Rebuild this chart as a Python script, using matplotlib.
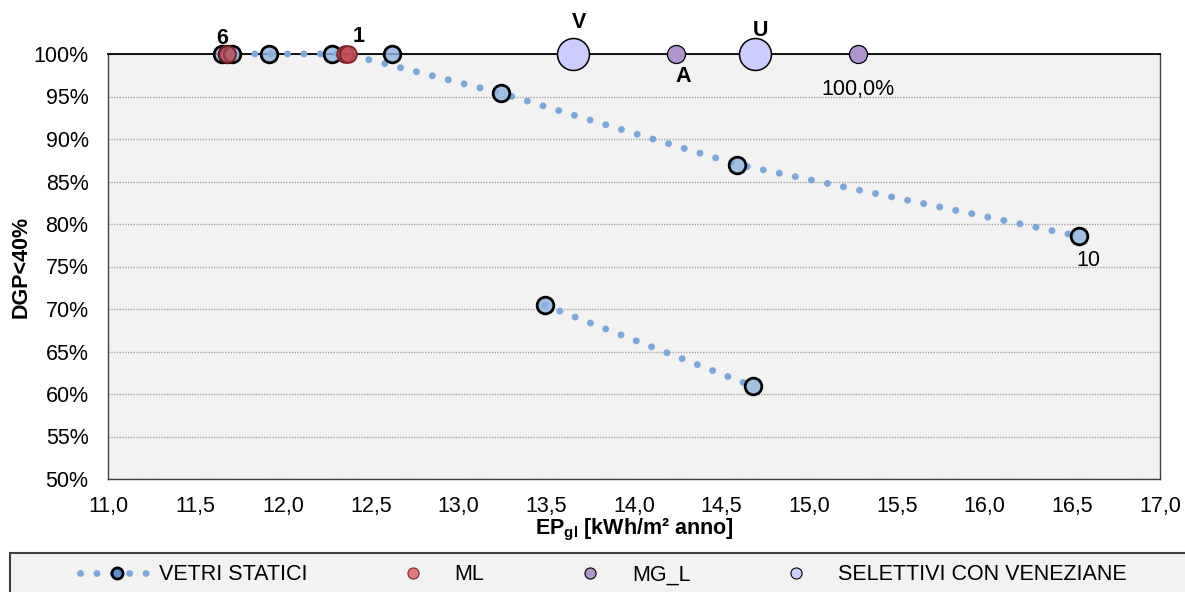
import matplotlib
matplotlib.use("Agg")
import matplotlib.pyplot as plt
from matplotlib.lines import Line2D
from matplotlib.patches import Rectangle

plt.rcParams['font.family'] = ['Liberation Sans', 'DejaVu Sans']
plt.rcParams['mathtext.fontset'] = 'custom'
plt.rcParams['mathtext.rm'] = 'Liberation Sans'
plt.rcParams['mathtext.bf'] = 'Liberation Sans:bold'

# ----------------------------
# Data (EP_gl kWh/m2 anno, DGP<40 %)
# ----------------------------
vetri_x = [11.65, 11.68, 11.71, 11.92, 12.28, 12.62, 13.24, 14.59, 16.54]
vetri_y = [100, 100, 100, 100, 100, 100, 95.4, 87.0, 78.55]

front_x = [11.65, 11.92, 12.28, 12.36, 13.24, 14.59, 16.54]
front_y = [100, 100, 100, 100, 95.4, 87.0, 78.55]

low_x = [13.49, 14.68]
low_y = [70.45, 60.9]

ml_x = [11.68, 12.35, 12.37]
ml_y = [100, 100, 100]

mgl_x = [14.24, 15.28]
mgl_y = [100, 100]

sel_x = [13.65, 14.69]
sel_y = [100, 100]

x_ticks = [11.0 + 0.5 * i for i in range(13)]
y_ticks = [50 + 5 * i for i in range(11)]

# ----------------------------
# Styles
# ----------------------------
LINE_C = '#7ba7dd'
BLUE_FC = (0.55, 0.70, 0.88, 0.8)
DOTS = (0, (0.01, 2.35))
FS = 15.5

fig = plt.figure(figsize=(11.85, 5.92), dpi=100)
ax = fig.add_axes([108 / 1185, 1 - 479 / 592, (1160 - 108) / 1185, (479 - 54) / 592])
ax.set_facecolor('#f2f2f2')

# dotted lines
for lx, ly in [(front_x, front_y), (low_x, low_y)]:
    ax.plot(lx, ly, color=LINE_C, lw=5.0, linestyle=DOTS,
            dash_capstyle='round', zorder=3, clip_on=False)

# markers
ax.plot(vetri_x + low_x, vetri_y + low_y, ls='none', marker='o', ms=12,
        mfc=BLUE_FC, mec='black', mew=2.0, zorder=4, clip_on=False)
ax.plot(ml_x, ml_y, ls='none', marker='o', ms=12,
        mfc=(0.75, 0.30, 0.32, 0.8), mec='#7a2226', mew=1.3, zorder=5, clip_on=False)
ax.plot(mgl_x, mgl_y, ls='none', marker='o', ms=13,
        mfc='#b094cc', mec='black', mew=0.9, zorder=5, clip_on=False)
ax.plot(sel_x, sel_y, ls='none', marker='o', ms=23,
        mfc='#ccccff', mec='black', mew=1.1, zorder=5, clip_on=False)

# data labels
def lab(text, x, y, dx, dy, bold=True):
    ax.annotate(text, (x, y), xytext=(dx * 0.72, dy * 0.72), textcoords='offset points',
                ha='center', va='center', fontsize=FS,
                fontweight='bold' if bold else 'normal', zorder=6, annotation_clip=False)

lab('6', vetri_x[0], vetri_y[0], 0, 16)
lab('1', ml_x[2], ml_y[2], 10, 18)
lab('V', sel_x[0], sel_y[0], 6, 31)
lab('U', sel_x[1], sel_y[1], 6, 23)
lab('A', mgl_x[0], mgl_y[0], 7, -23)
lab(f'{mgl_y[1]:.1f}%'.replace('.', ','), mgl_x[1], mgl_y[1], 0, -35, bold=False)
lab('10', vetri_x[-1], vetri_y[-1], 9, -24, bold=False)

# axes
ax.set_xlim(11, 17)
ax.set_ylim(50, 100)
ax.set_xticks(x_ticks)
ax.set_xticklabels([f'{v:.1f}'.replace('.', ',') for v in x_ticks])
ax.set_yticks(y_ticks)
ax.set_yticklabels([f'{v}%' for v in y_ticks])
ax.tick_params(axis='both', length=0, labelsize=FS)
ax.tick_params(axis='y', pad=14)
ax.tick_params(axis='x', pad=12)
ax.yaxis.grid(True, color='#a6a6a6', linestyle=(0, (1, 1)), lw=1.0)
ax.set_axisbelow(True)
for s in ['left', 'right', 'bottom']:
    ax.spines[s].set_color('#404040')
    ax.spines[s].set_linewidth(1.0)
ax.spines['top'].set_color('black')
ax.spines['top'].set_linewidth(1.3)

ax.set_xlabel(r'EP$_{\mathbf{gl}}$ [kWh/m² anno]', fontsize=FS, fontweight='bold', labelpad=0)
ax.set_ylabel('DGP<40%', fontsize=FS, fontweight='bold')
ax.yaxis.set_label_coords(-76 / 1052, 0.5)

# legend box
fig.patches.append(Rectangle((10 / 1185, -0.1), 1.2, 0.1 + (592 - 553) / 592,
                             transform=fig.transFigure, facecolor='#f2f2f2',
                             edgecolor='#404040', lw=1.5, zorder=0))
handles = [
    Line2D([], [], color=LINE_C, lw=5.0, linestyle=DOTS, dash_capstyle='round',
           marker='o', ms=8, mfc='#5b8fcf', mec='black', mew=2),
    Line2D([], [], ls='none', marker='o', ms=8, mfc='#e07b77', mec='#7a2226', mew=0.8),
    Line2D([], [], ls='none', marker='o', ms=8, mfc='#b094cc', mec='black', mew=0.8),
    Line2D([], [], ls='none', marker='o', ms=8, mfc='#ccccff', mec='black', mew=0.8),
]
labels = ['VETRI STATICI', 'ML', 'MG_L', 'SELETTIVI CON VENEZIANE']
fig.legend(handles, labels, loc='center left', bbox_to_anchor=(80 / 1185, 1 - 575 / 592),
           ncol=4, frameon=False, fontsize=FS, handlelength=3.4,
           handletextpad=0.25, columnspacing=3.2, borderpad=0, borderaxespad=0,
           markerscale=1)

fig.savefig('out.png', dpi=100)
